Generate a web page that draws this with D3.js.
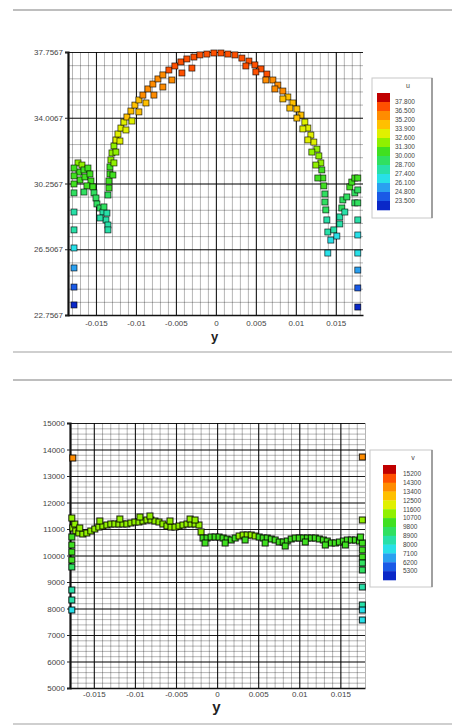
<!DOCTYPE html>
<html>
<head>
<meta charset="utf-8">
<script src="https://cdn.jsdelivr.net/npm/d3@7"></script>
<style>
  body { margin: 0; background: #fff; }
  text { font-family: "Liberation Sans", Arial, sans-serif; }
</style>
</head>
<body>
<svg id="chart" width="452" height="728"></svg>
<script>
// ---------- shared contour palette (low -> high) ----------
const palette = ["#0a28c8", "#1a5ae6", "#2aa0f0", "#28e0e8", "#28e0a8", "#30e060",
                 "#40e020", "#90f000", "#e0f000", "#ffc000", "#ff8c00", "#ff5000", "#c00000"];

// ---------- upper panel: u against y ----------
const topXTicks = [-0.015, -0.01, -0.005, 0, 0.005, 0.01, 0.015];
const topYTicks = [22.7567, 26.5067, 30.2567, 34.0067, 37.7567];
const topLevels = [23.5, 24.8, 26.1, 27.4, 28.7, 30.0, 31.3, 32.6, 33.9, 35.2, 36.5, 37.8];

// profile, outer row
const topArcY = [-0.0135,-0.01338,-0.01338,-0.01325,-0.01325,-0.01313,-0.013,-0.01275,-0.0125,-0.01225,
  -0.01188,-0.0115,-0.01113,-0.01063,-0.01013,-0.00963,-0.00913,-0.0085,-0.00788,-0.00725,
  -0.00663,-0.00588,-0.00513,-0.00438,-0.00363,-0.00275,-0.002,-0.00113,-0.00025,0.00063,
  0.0015,0.00238,0.00325,0.00413,0.00488,0.00563,0.00638,0.00713,0.00775,0.00838,
  0.009,0.00963,0.01013,0.01063,0.01113,0.0115,0.01188,0.01225,0.01263,0.01288,
  0.01313,0.01325,0.01338,0.0135,0.01363,0.01363,0.01375];
const topArcU = [29.60,30.00,30.40,30.80,31.20,31.60,32.00,32.40,32.74,33.08,
  33.42,33.76,34.05,34.39,34.73,35.02,35.30,35.65,35.93,36.22,
  36.45,36.73,36.96,37.19,37.36,37.47,37.59,37.64,37.70,37.70,
  37.64,37.59,37.41,37.24,37.02,36.79,36.50,36.16,35.87,35.53,
  35.19,34.85,34.51,34.16,33.76,33.42,33.02,32.62,32.22,31.83,
  31.43,31.03,30.57,30.12,29.66,29.20,28.75];
// profile, inner row
const topInnerY = [-0.01288,-0.01275,-0.0125,-0.012,-0.01125,-0.0105,-0.00963,-0.00875,-0.00775,-0.00663,-0.0055,-0.00425,-0.003,
  0.00375,0.005,0.00625,0.00738,0.00838,0.00925,0.01013,0.01088,0.0115,0.012,0.0125,0.01275];
const topInnerU = [30.74,31.43,32.05,32.68,33.31,33.82,34.34,34.85,35.30,35.76,36.16,36.56,36.84,
  36.96,36.62,36.16,35.65,35.08,34.56,33.99,33.37,32.74,32.05,31.31,30.57];
// near-wall scatter, left side
const topLeftY = [-0.01725,-0.01675,-0.01713,-0.0165,-0.017,-0.01638,-0.016,-0.01575,-0.01563,-0.01613,
  -0.01538,-0.01525,-0.015,-0.01488,-0.0145,-0.01413,-0.01363,-0.01375,-0.0135,-0.014,-0.0165,-0.0145,-0.0135,
  -0.01775,-0.01775,-0.01775,-0.01775,-0.01775,-0.01775,-0.01775,-0.01775,-0.01775,-0.01775];
const topLeftU = [31.43,31.31,30.91,31.03,30.46,30.63,31.14,30.80,30.40,30.12,
  30.06,29.72,29.43,29.09,28.86,28.63,28.57,28.18,27.89,28.92,29.77,28.29,27.61,
  31.14,30.69,30.23,29.72,28.63,27.61,26.58,25.44,24.35,23.33];
// near-wall scatter, right side
const topRightY = [0.01388,0.014,0.014,0.01438,0.01475,0.01513,0.0155,0.01575,0.01588,0.01638,
  0.01675,0.017,0.01738,0.01738,0.01738,0.0155,0.01613,
  0.01775,0.01775,0.01775,0.01775,0.01775,0.01775,0.01775,0.01775,0.01775];
const topRightU = [28.18,27.49,26.29,27.03,27.61,27.26,28.35,28.86,29.32,29.49,
  30.06,30.34,30.57,29.72,29.15,27.95,28.63,
  30.57,29.89,29.15,28.18,27.32,26.29,25.32,24.30,23.21];

// ---------- lower panel: v against y ----------
const botXTicks = [-0.015, -0.01, -0.005, 0, 0.005, 0.01, 0.015];
const botYTicks = [5000, 6000, 7000, 8000, 9000, 10000, 11000, 12000, 13000, 14000, 15000];
const botLevels = [5300, 6200, 7100, 8000, 8900, 9800, 10700, 11600, 12500, 13400, 14300, 15200];

const botLineY = [-0.01756,-0.0172,-0.01683,-0.01634,-0.01585,-0.01537,-0.01488,-0.01439,-0.0139,-0.01341,
  -0.01293,-0.01244,-0.01195,-0.01146,-0.01098,-0.01049,-0.01,-0.00951,-0.00902,-0.00854,
  -0.00805,-0.00756,-0.00707,-0.00659,-0.0061,-0.00561,-0.00512,-0.00463,-0.00415,-0.00366,
  -0.00317,-0.00268,-0.0022,-0.00195,-0.00171,-0.00122,-0.00073,-0.00024,0.00024,0.00073,
  0.00122,0.00171,0.0022,0.00268,0.00317,0.00366,0.00415,0.00463,0.00512,0.00561,
  0.0061,0.00659,0.00707,0.00756,0.00805,0.00854,0.00902,0.00951,0.01,0.01049,
  0.01098,0.01146,0.01195,0.01244,0.01293,0.01341,0.0139,0.01439,0.01488,0.01537,
  0.01585,0.01634,0.01683,0.01732,0.01768];
const botLineV = [11038,10925,10849,10811,10849,10925,11000,11075,11113,11151,
  11189,11189,11189,11189,11189,11226,11264,11264,11302,11340,
  11340,11302,11264,11189,11113,11075,11075,11113,11151,11189,
  11189,11189,11151,10887,10660,10660,10698,10698,10698,10660,
  10623,10585,10660,10736,10774,10774,10774,10736,10698,10660,
  10660,10623,10585,10509,10509,10547,10623,10660,10660,10660,
  10660,10660,10660,10623,10585,10547,10472,10472,10509,10547,
  10585,10585,10585,10547,10472];
const botRowY = [-0.01732,-0.01671,-0.01427,-0.01183,-0.00939,-0.00817,-0.00573,-0.00329,-0.00268,
  -0.00146,0.00098,0.00341,0.00585,0.00829,0.01073,0.01317,0.01561,0.01744];
const botRowV = [11189,11038,11302,11377,11453,11491,11302,11377,11340,
  10472,10472,10585,10472,10358,10509,10396,10396,10698];
const botWallY = [-0.01768,-0.01768,-0.01768,-0.01768,-0.01768,-0.01768,-0.01768,-0.01768,-0.01768,
  0.01768,0.01768,0.01768,0.01768,0.01768,0.01768,0.01768,0.01768,0.01768,
  -0.01756,0.01768];
const botWallV = [11415,10698,10396,10132,9830,9566,8698,8321,7943,
  11340,10208,9943,9717,9453,8811,8132,7943,7566,
  13679,13717];

const svg = d3.select("#chart");

function panel(o) {
  const g = svg.append("g");
  const x = d3.scaleLinear().domain(o.xDomain).range([o.left, o.right]);
  const y = d3.scaleLinear().domain(o.yDomain).range([o.bottom, o.top]);
  const h = o.bottom - o.top, w = o.right - o.left;

  // frame lines of the panel
  g.append("line").attr("x1", 13).attr("x2", 452).attr("y1", o.frameTop).attr("y2", o.frameTop)
    .attr("stroke", "#a8a8a8").attr("stroke-width", 1.5);
  g.append("line").attr("x1", 13).attr("x2", 452).attr("y1", o.frameBottom).attr("y2", o.frameBottom)
    .attr("stroke", "#cfcfcf").attr("stroke-width", 2);

  // minor grid
  const xMinor = d3.range(Math.ceil(o.xDomain[0] / o.xMinor), Math.floor(o.xDomain[1] / o.xMinor) + 1)
    .map(k => k * o.xMinor);
  const yMinor = d3.range(0, Math.round((o.yDomain[1] - o.yDomain[0]) / o.yMinor) + 1)
    .map(k => o.yDomain[0] + k * o.yMinor);
  const styleGrid = (sel, op, sw) => {
    sel.select(".domain").remove();
    sel.selectAll("line").attr("stroke", "#000").attr("stroke-opacity", op).attr("stroke-width", sw);
  };
  g.append("g").attr("transform", `translate(0,${o.bottom})`)
    .call(d3.axisBottom(x).tickValues(xMinor).tickSize(-h).tickFormat(""))
    .call(s => styleGrid(s, 0.42, 0.7));
  g.append("g").attr("transform", `translate(${o.left},0)`)
    .call(d3.axisLeft(y).tickValues(yMinor).tickSize(-w).tickFormat(""))
    .call(s => styleGrid(s, 0.42, 0.7));
  // major grid
  g.append("g").attr("transform", `translate(0,${o.bottom})`)
    .call(d3.axisBottom(x).tickValues(o.xTicks).tickSize(-h).tickFormat(""))
    .call(s => styleGrid(s, 0.85, 1.1));
  g.append("g").attr("transform", `translate(${o.left},0)`)
    .call(d3.axisLeft(y).tickValues(o.yTicks).tickSize(-w).tickFormat(""))
    .call(s => styleGrid(s, 0.85, 1.1));

  // axes with labels
  const ax = g.append("g").attr("transform", `translate(0,${o.bottom})`)
    .call(d3.axisBottom(x).tickValues(o.xTicks).tickSize(0).tickPadding(o.xPad).tickFormat(d => String(d)));
  ax.select(".domain").attr("stroke", "#111").attr("stroke-width", 1.5);
  ax.selectAll("text").attr("font-size", 8).attr("fill", "#444");
  const ay = g.append("g").attr("transform", `translate(${o.left},0)`)
    .call(d3.axisLeft(y).tickValues(o.yTicks).tickSize(3).tickPadding(2).tickFormat(o.yFormat));
  ay.select(".domain").attr("stroke", "#111").attr("stroke-width", 2.2);
  ay.selectAll("line").attr("stroke", "#222");
  ay.selectAll("text").attr("font-size", 8).attr("fill", "#444");

  g.append("text").attr("x", (o.left + o.right) / 2 - 1).attr("y", o.titleY)
    .attr("text-anchor", "middle").attr("font-size", o.titleSize).attr("font-weight", "bold")
    .attr("fill", "#222").text("y");

  // scatter of square symbols coloured by the plotted variable
  const color = d3.scaleThreshold().domain(o.levels).range(palette);
  const s = 6;
  o.series.forEach(([px, pv]) => {
    g.append("g").selectAll("rect").data(d3.range(px.length)).join("rect")
      .attr("x", i => x(px[i]) - s / 2).attr("y", i => y(pv[i]) - s / 2)
      .attr("width", s).attr("height", s)
      .attr("fill", i => color(pv[i]))
      .attr("stroke", "#000").attr("stroke-opacity", 0.8).attr("stroke-width", o.markStroke);
  });

  // contour legend
  const L = o.legend;
  g.append("rect").attr("x", L.x).attr("y", L.y).attr("width", L.w).attr("height", L.h)
    .attr("fill", "#fff").attr("stroke", "#c8c8c8").attr("stroke-width", 1);
  g.append("line").attr("x1", L.x + L.w).attr("x2", L.x + L.w).attr("y1", L.y).attr("y2", L.y + L.h)
    .attr("stroke", "#8a8a8a").attr("stroke-width", 1.5);
  g.append("text").attr("x", L.titleX).attr("y", L.y + 10).attr("font-size", 7)
    .attr("text-anchor", "middle").attr("fill", "#444").text(o.varName);
  const nb = palette.length, bh = L.barH / nb;
  const top = palette.slice().reverse();
  g.append("g").selectAll("rect").data(top).join("rect")
    .attr("x", L.barX).attr("y", (c, k) => L.barY + k * bh)
    .attr("width", 13).attr("height", bh + 0.3).attr("fill", c => c);
  const lv = o.levels.slice().reverse();
  g.append("g").selectAll("text").data(lv).join("text")
    .attr("x", L.labelX).attr("y", (d, k) => L.barY + (k + 1) * bh + 2.3)
    .attr("font-size", 6.5).attr("fill", "#444").text(o.legendFormat);
}

panel({
  xDomain: [-0.0185, 0.0184], yDomain: [22.7567, 37.7567],
  left: 68, right: 363, top: 52, bottom: 315,
  xTicks: topXTicks, yTicks: topYTicks, xMinor: 0.001, yMinor: 0.75,
  yFormat: d3.format(".4f"), xPad: 5, markStroke: 0.75,
  frameTop: 10, frameBottom: 352, titleY: 341, titleSize: 13,
  levels: topLevels, varName: "u", legendFormat: d3.format(".3f"),
  series: [[topArcY, topArcU], [topInnerY, topInnerU], [topLeftY, topLeftU], [topRightY, topRightU]],
  legend: { x: 372, y: 78, w: 60, h: 140, titleX: 408, barX: 377, barY: 93, barH: 117, labelX: 395 }
});

panel({
  xDomain: [-0.0179, 0.018], yDomain: [5000, 15000],
  left: 70, right: 365, top: 423, bottom: 688,
  xTicks: botXTicks, yTicks: botYTicks, xMinor: 0.001, yMinor: 200,
  yFormat: d3.format("d"), xPad: 3, markStroke: 1.1,
  frameTop: 380, frameBottom: 724, titleY: 712, titleSize: 15,
  levels: botLevels, varName: "v", legendFormat: d3.format("d"),
  series: [[botLineY, botLineV], [botRowY, botRowV], [botWallY, botWallV]],
  legend: { x: 370, y: 450, w: 62, h: 137, titleX: 413, barX: 383, barY: 465, barH: 115, labelX: 403 }
});
</script>
</body>
</html>
